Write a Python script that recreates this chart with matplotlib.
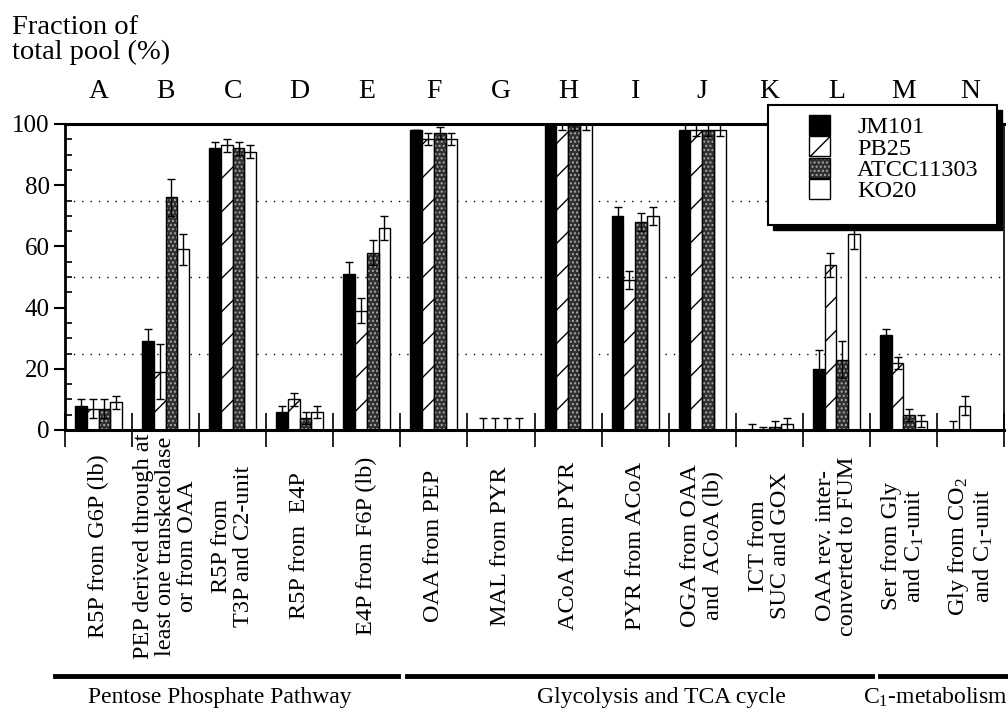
import matplotlib
matplotlib.use('Agg')
import matplotlib.pyplot as plt
import numpy as np
from matplotlib.patches import Rectangle, Patch
from matplotlib.lines import Line2D

plt.rcParams['font.family'] = ['Liberation Serif', 'DejaVu Serif']
plt.rcParams['mathtext.fontset'] = 'custom'
plt.rcParams['mathtext.rm'] = 'Liberation Serif'
plt.rcParams['hatch.linewidth'] = 1.0

# data
letters = list('ABCDEFGHIJKLMN')
cat_labels = [
    'R5P from G6P (lb)',
    'PEP derived through at\nleast one transketolase\nor from OAA',
    'R5P from\nT3P and C2-unit',
    'R5P from  E4P',
    'E4P from F6P (lb)',
    'OAA from PEP',
    'MAL from PYR',
    'ACoA from PYR',
    'PYR from ACoA',
    'OGA from OAA\nand  ACoA (lb)',
    'ICT from\nSUC and GOX',
    'OAA rev. inter-\nconverted to FUM',
    'Ser from Gly\nand $\\mathregular{C_1}$-unit',
    'Gly from $\\mathregular{CO_2}$\nand $\\mathregular{C_1}$-unit',
]
strains = ['JM101', 'PB25', 'ATCC11303', 'KO20']
jm101 = [8, 29, 92, 6, 51, 98, 0, 100, 70, 98, 0, 20, 31, 0]
pb25 = [7, 19, 93, 10, 39, 95, 0, 100, 49, 98, 0, 54, 22, 8]
atcc = [7, 76, 92, 4, 58, 97, 0, 100, 68, 98, 1, 23, 5, 0]
ko20 = [9, 59, 91, 6, 66, 95, 0, 100, 70, 98, 2, 64, 3, 0]
jm101_err = [2, 4, 2, 2, 4, 0, 4, 2, 3, 2, 2, 6, 2, 3]
pb25_err = [3, 9, 2, 2, 4, 2, 4, 2, 3, 2, 1, 4, 2, 3]
atcc_err = [3, 6, 2, 2, 4, 2, 4, 2, 3, 2, 2, 6, 2, 0]
ko20_err = [2, 5, 2, 2, 4, 2, 4, 2, 3, 2, 2, 5, 2, 0]
groups = ['Pentose Phosphate Pathway', 'Glycolysis and TCA cycle',
          '$\\mathregular{C_1}$-metabolism']
grid_vals = [25, 50, 75]

W, H = 1008, 710
fig = plt.figure(figsize=(W / 100, H / 100), dpi=100)
ax = fig.add_axes([65 / W, 1 - 430 / H, 939 / W, 306 / H])

n = len(letters)
x = np.arange(n)
bw = 0.175
offs = 0.15 + bw / 2 + bw * np.arange(4)
atcc_face, atcc_dots = '#303030', '#a8a8a8'

for g in grid_vals:
    ax.axhline(g, color='black', lw=1, ls=(0, (1, 5)), zorder=0)

ax.bar(x + offs[0], jm101, bw, color='black', edgecolor='black', lw=1, zorder=2)
ax.bar(x + offs[1], pb25, bw, color='white', edgecolor='black', lw=1,
       hatch='/', zorder=2)
ax.bar(x + offs[2], atcc, bw, color=atcc_face, edgecolor=atcc_dots, lw=0,
       hatch='....', zorder=2)
ax.bar(x + offs[3], ko20, bw, color='white', edgecolor='black', lw=1, zorder=2)
ax.bar(x + offs[2], atcc, bw, fill=False, edgecolor='black', lw=1, zorder=2.1)

for k, (vals, errs) in enumerate([(jm101, jm101_err), (pb25, pb25_err),
                                  (atcc, atcc_err), (ko20, ko20_err)]):
    ax.errorbar(x + offs[k], vals, yerr=errs, fmt='none', ecolor='black',
                elinewidth=1, capsize=3.2, capthick=1, zorder=3)

ax.set_xlim(0, n)
ax.set_ylim(0, 100)
ax.set_xticks(np.arange(n + 1))
ax.set_xticklabels([])
ax.tick_params(axis='x', direction='inout', length=25, width=1.2)
ax.set_yticks(np.arange(0, 101, 20))
ax.set_yticks(np.arange(0, 101, 5), minor=True)
ax.tick_params(axis='y', which='major', direction='out', length=8, width=1.5,
               labelsize=18, pad=3)
ax.tick_params(axis='y', which='minor', direction='in', length=5, width=1.2)
for s in ax.spines.values():
    s.set_linewidth(1.2)
ax.spines['top'].set_linewidth(2.2)
ax.spines['left'].set_linewidth(2)
ax.spines['bottom'].set_linewidth(2.2)

for i in range(n):
    ax.text(i + 0.5, 1.105, letters[i], transform=ax.get_xaxis_transform(),
            ha='center', va='center', fontsize=20)
    ax.text(i + 0.5, -0.379, cat_labels[i], transform=ax.get_xaxis_transform(),
            ha='center', va='center', rotation=90, fontsize=17.5,
            multialignment='center', linespacing=1.08)

fig.text(12 / W, 1 - 40 / H, 'Fraction of\ntotal pool (%)', fontsize=20.5,
         ha='left', va='center', linespacing=0.95)

# pathway brackets
spans = [(55, 398), (407, 872), (880, 1006)]
centers = [220, 661, 935]
for (x0, x1), cx, name in zip(spans, centers, groups):
    fig.add_artist(Line2D([x0 / W, x1 / W], [1 - 676 / H] * 2, color='black',
                          lw=3.5, transform=fig.transFigure))
    fig.text(cx / W, 1 - 697 / H, name, fontsize=17, ha='center', va='center')

# legend with drop shadow box
fig.add_artist(Rectangle((773 / W, 1 - 230 / H), 229 / W, 120 / H,
                         transform=fig.transFigure, facecolor='black',
                         edgecolor='black', zorder=5))
fig.add_artist(Rectangle((768 / W, 1 - 225 / H), 229 / W, 120 / H,
                         transform=fig.transFigure, facecolor='white',
                         edgecolor='black', lw=1.5, zorder=6))
handles = [
    Patch(facecolor='black', edgecolor='black'),
    Patch(facecolor='white', edgecolor='black', hatch='/'),
    (Patch(facecolor=atcc_face, edgecolor=atcc_dots, lw=0, hatch='....'),
     Patch(fill=False, edgecolor='black')),
    Patch(facecolor='white', edgecolor='black'),
]
leg = fig.legend(handles, strains, loc='upper left',
                 bbox_to_anchor=(809 / W, 1 - 115 / H), frameon=False,
                 fontsize=17.5, handlelength=0.88, handleheight=0.88,
                 handletextpad=1.1, labelspacing=-0.08, borderpad=0,
                 borderaxespad=0)
leg.set_zorder(7)

fig.savefig('out.png', dpi=100)
